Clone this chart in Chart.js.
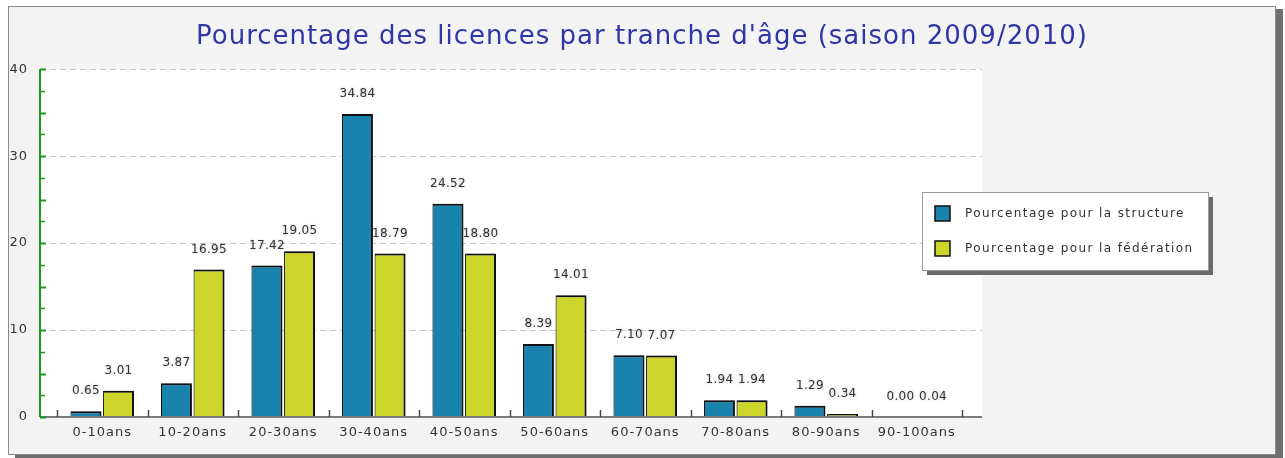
<!DOCTYPE html>
<html>
<head>
<meta charset="utf-8">
<script src="https://cdn.jsdelivr.net/npm/chart.js@4"></script>
<style>
  body { margin: 0; background: #fff; }
  #cadre {
    position: absolute; left: 8px; top: 6px;
    width: 1266px; height: 447px;
    border: 1px solid #8a8a8a;
    background: #f3f3f3;
    box-shadow: 7px 3px 0 #6f6f6f;
  }
  canvas { display: block; }
</style>
</head>
<body>
<div id="cadre"><canvas id="licencesChart" width="1266" height="447"></canvas></div>
<script>
// données
const tranches = ["0-10ans", "10-20ans", "20-30ans", "30-40ans", "40-50ans",
                  "50-60ans", "60-70ans", "70-80ans", "80-90ans", "90-100ans"];
const pctStructure = [0.65, 3.87, 17.42, 34.84, 24.52, 8.39, 7.10, 1.94, 1.29, 0.00];
const pctFederation = [3.01, 16.95, 19.05, 18.79, 18.80, 14.01, 7.07, 1.94, 0.34, 0.04];
const yTicks = [0, 10, 20, 30, 40];
const seriesLabels = ["Pourcentage pour la structure", "Pourcentage pour la fédération"];
const seriesColors = ["#1a83ad", "#cdd52a"];

const FONT = "DejaVu Sans";

// fond blanc, grille pointillée, axes
const plotFrame = {
  id: "plotFrame",
  beforeDraw(chart) {
    // texte un peu espacé comme sur l'original
    chart.ctx.letterSpacing = "1px";
  },
  beforeDatasetsDraw(chart) {
    const { ctx, chartArea: a, scales: { y } } = chart;
    const left = a.left - 17, right = a.right + 20;
    ctx.save();
    ctx.fillStyle = "#fff";
    ctx.fillRect(left, a.top, right - left, a.bottom - a.top);
    ctx.strokeStyle = "#c4c4c4";
    ctx.lineWidth = 1;
    ctx.setLineDash([6, 4]);
    yTicks.forEach(v => {
      if (v === 0) return;
      const py = Math.round(y.getPixelForValue(v)) + 0.5;
      ctx.beginPath();
      ctx.moveTo(left, py);
      ctx.lineTo(right, py);
      ctx.stroke();
    });
    ctx.restore();
  },
  afterDatasetsDraw(chart) {
    const { ctx, chartArea: a, scales: { x, y } } = chart;
    const left = a.left - 17, right = a.right + 20;
    ctx.save();
    // axe x
    ctx.strokeStyle = "#7a7a7a";
    ctx.lineWidth = 2;
    ctx.beginPath();
    ctx.moveTo(left, a.bottom);
    ctx.lineTo(right, a.bottom);
    ctx.stroke();
    // petites marques entre les tranches
    ctx.lineWidth = 1.5;
    ctx.strokeStyle = "#444";
    for (let i = 0; i <= tranches.length; i++) {
      const px = Math.round(x.getPixelForValue(i - 0.5)) + 0.5;
      ctx.beginPath();
      ctx.moveTo(px, a.bottom);
      ctx.lineTo(px, a.bottom - 7);
      ctx.stroke();
    }
    // axe y vert
    ctx.strokeStyle = "#1a9a1a";
    ctx.lineWidth = 2;
    ctx.beginPath();
    ctx.moveTo(left, y.getPixelForValue(40));
    ctx.lineTo(left, a.bottom);
    ctx.stroke();
    for (let v = 0; v <= 40; v += 2.5) {
      const py = Math.round(y.getPixelForValue(v)) + 0.5;
      ctx.lineWidth = v % 5 === 0 ? 2 : 1.5;
      ctx.beginPath();
      ctx.moveTo(left, py);
      ctx.lineTo(left + (v % 5 === 0 ? 6 : 5), py);
      ctx.stroke();
    }
    // valeurs au-dessus des barres
    ctx.font = "12px '" + FONT + "'";
    ctx.letterSpacing = "0.3px";
    ctx.textAlign = "center";
    ctx.textBaseline = "middle";
    ctx.fillStyle = "#333";
    ctx.shadowColor = "rgba(0,0,0,0.25)";
    ctx.shadowBlur = 3;
    chart.data.datasets.forEach((ds, di) => {
      chart.getDatasetMeta(di).data.forEach((bar, i) => {
        ctx.fillText(ds.data[i].toFixed(2), bar.x, bar.y - 20);
      });
    });
    ctx.restore();
  },
  // ombre des barres
  beforeDatasetDraw(chart) {
    const ctx = chart.ctx;
    ctx.save();
    ctx.shadowColor = "rgba(0,0,0,0.35)";
    ctx.shadowBlur = 5;
  },
  afterDatasetDraw(chart) {
    chart.ctx.restore();
  },
  // légende encadrée
  afterDraw(chart) {
    const ctx = chart.ctx;
    const bx = 913, by = 185, bw = 286, bh = 78;
    ctx.save();
    ctx.fillStyle = "#6a6a6a";
    ctx.fillRect(bx + 5, by + 5, bw, bh);
    ctx.fillStyle = "#fff";
    ctx.fillRect(bx, by, bw, bh);
    ctx.strokeStyle = "#999";
    ctx.lineWidth = 1;
    ctx.strokeRect(bx + 0.5, by + 0.5, bw, bh);
    ctx.font = "12px '" + FONT + "'";
    ctx.letterSpacing = "1.4px";
    ctx.textBaseline = "middle";
    chart.data.datasets.forEach((ds, i) => {
      const cy = by + 22 + i * 35;
      ctx.fillStyle = ds.backgroundColor;
      ctx.fillRect(bx + 13, cy - 8, 15, 15);
      ctx.strokeStyle = "#111";
      ctx.lineWidth = 1.5;
      ctx.strokeRect(bx + 13, cy - 8, 15, 15);
      ctx.fillStyle = "#333";
      ctx.fillText(ds.label, bx + 43, cy);
    });
    ctx.restore();
  }
};

const ctx = document.getElementById("licencesChart").getContext("2d");
new Chart(ctx, {
  type: "bar",
  data: {
    labels: tranches,
    datasets: [
      {
        label: seriesLabels[0],
        data: pctStructure,
        yAxisID: "y",
        backgroundColor: seriesColors[0],
        borderColor: "#111",
        borderWidth: { top: 2, right: 2, left: 1, bottom: 0 },
        borderSkipped: "bottom"
      },
      {
        label: seriesLabels[1],
        data: pctFederation,
        yAxisID: "y",
        backgroundColor: seriesColors[1],
        borderColor: "#111",
        borderWidth: { top: 2, right: 2, left: 1, bottom: 0 },
        borderSkipped: "bottom"
      }
    ]
  },
  options: {
    responsive: false,
    animation: false,
    events: [],
    categoryPercentage: 0.72,
    barPercentage: 0.95,
    plugins: {
      legend: { display: false },
      tooltip: { enabled: false },
      title: {
        display: true,
        text: "Pourcentage des licences par tranche d'âge (saison 2009/2010)",
        color: "#2f36a6",
        font: { family: FONT, size: 26, weight: "normal" },
        padding: { top: 15, bottom: 16 }
      }
    },
    scales: {
      x: {
        grid: { display: false, drawTicks: false },
        border: { display: false },
        ticks: {
          color: "#333",
          font: { family: FONT, size: 13 },
          padding: 8,
          maxRotation: 0,
          autoSkip: false
        },
        afterFit(scale) { scale.height = 37; }
      },
      y: {
        min: 0,
        max: 40,
        grid: { display: false, drawTicks: false },
        border: { display: false },
        ticks: {
          stepSize: 10,
          color: "#333",
          font: { family: FONT, size: 13 },
          padding: 29
        },
        afterFit(scale) { scale.width = 48; }
      },
      // axe vide à droite : laisse la place de la légende
      yPad: {
        type: "linear",
        position: "right",
        grid: { display: false, drawTicks: false },
        border: { display: false },
        ticks: { display: false },
        afterFit(scale) { scale.width = 313; }
      }
    }
  },
  plugins: [plotFrame]
});
</script>
</body>
</html>
